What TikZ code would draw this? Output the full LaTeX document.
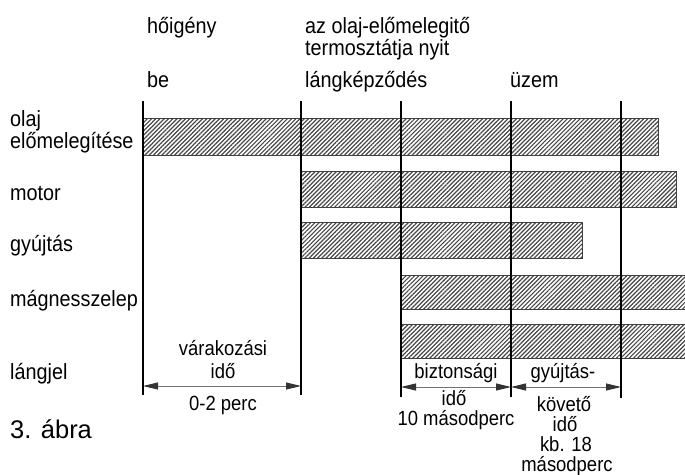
\documentclass[tikz,border=0pt]{standalone}
\usepackage{fontspec}
\setmainfont{Liberation Sans}
\newfontfamily\narrowsans[FakeStretch=0.9]{Liberation Sans}
\usetikzlibrary{patterns.meta,arrows.meta}
\begin{document}
\begin{tikzpicture}[x=1pt,y=-1pt,
  lbl/.style={anchor=base west,inner sep=0pt,font=\narrowsans\fontsize{22}{22}\selectfont},
  title/.style={anchor=base west,inner sep=0pt,font=\fontsize{25.5}{28}\selectfont},
  dimlbl/.style={anchor=base,inner sep=0pt,font=\narrowsans\fontsize{20.5}{20}\selectfont},
  timeline/.style={line width=2.4pt,black},
  bar/.style={draw=black!75,line width=0.9pt,
    pattern={Lines[angle=45,distance=3pt,line width=1.2pt]},pattern color=black!72},
  span/.style={draw=black!55,line width=0.9pt,{Triangle[length=15pt,width=7pt,fill=black!80,color=black!80]}-{Triangle[length=15pt,width=7pt,fill=black!80,color=black!80]}}
]
\useasboundingbox (0,0) rectangle (685,474);

% event labels along the top
\node[lbl] (heat)  at (147,33) {hőigény};
\node[lbl] (thermA) at (305,33) {az olaj-előmelegitő};
\node[lbl] (thermB) at (305,55) {termosztátja nyit};
\node[lbl] (on)    at (147,87) {be};
\node[lbl] (flame) at (305,87) {lángképződés};
\node[lbl] (run)   at (510,87) {üzem};

% signal names on the left
\node[lbl] (oilA)  at (10,126) {olaj};
\node[lbl] (oilB)  at (10,148) {előmelegítése};
\node[lbl] (motor) at (10,200) {motor};
\node[lbl] (ign)   at (10,251) {gyújtás};
\node[lbl] (valve) at (10,306) {mágnesszelep};
\node[lbl] (sig)   at (10,379) {lángjel};
\node[title] (fig) at (10,438) {3. ábra};

% hatched activity bars
\draw[bar] (143,118) rectangle (658,155);
\draw[bar] (301,171) rectangle (676,207);
\draw[bar] (301,222) rectangle (582,258);
\draw[bar] (401,275) rectangle (700,309);
\draw[bar] (401,324) rectangle (700,358);

% event time lines
\coordinate (t1a) at (143,101); \coordinate (t1b) at (143,395);
\coordinate (t2a) at (301,101); \coordinate (t2b) at (301,395);
\coordinate (t3a) at (401,101); \coordinate (t3b) at (401,397);
\coordinate (t4a) at (511,101); \coordinate (t4b) at (511,397);
\coordinate (t5a) at (621,101); \coordinate (t5b) at (621,398);
\draw[timeline] (t1a) -- (t1b);
\draw[timeline] (t2a) -- (t2b);
\draw[timeline] (t3a) -- (t3b);
\draw[timeline] (t4a) -- (t4b);
\draw[timeline] (t5a) -- (t5b);

% interval dimensions
\coordinate (w1) at (143,386); \coordinate (w2) at (301,386);
\coordinate (s1) at (401,387); \coordinate (s2) at (511,387);
\coordinate (p2) at (621,387);
\draw[span] (w1) -- (w2);
\draw[span] (s1) -- (s2);
\draw[span] (s2) -- (p2);

\node[dimlbl] (waitA) at (223,355) {várakozási};
\node[dimlbl] (waitB) at (223,378) {idő};
\node[dimlbl] (waitC) at (223,410) {0-2 perc};

\node[dimlbl] (safeA) at (456,378) {biztonsági};
\node[dimlbl] (safeB) at (454,405) {idő};
\node[dimlbl] (safeC) at (456,425) {10 másodperc};

\node[dimlbl] (postA) at (563,378) {gyújtás-};
\node[dimlbl] (postB) at (564,411) {követő};
\node[dimlbl] (postC) at (565,431) {idő};
\node[dimlbl] (postD) at (566,451) {kb. 18};
\node[dimlbl] (postE) at (567,471) {másodperc};
\end{tikzpicture}
\end{document}
